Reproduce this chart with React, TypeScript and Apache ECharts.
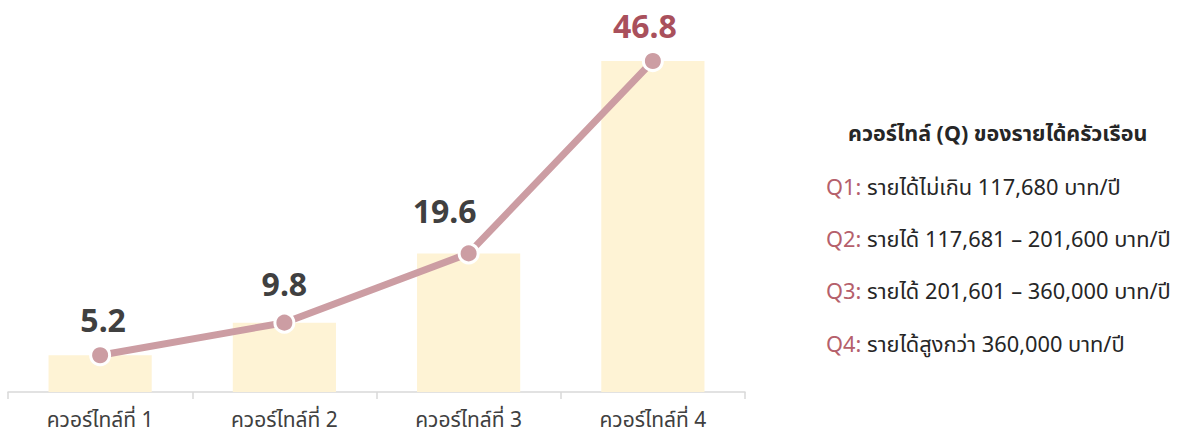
import React, { useEffect, useRef } from "react";
import * as echarts from "echarts";

const categories = ["ควอร์ไทล์ที่ 1", "ควอร์ไทล์ที่ 2", "ควอร์ไทล์ที่ 3", "ควอร์ไทล์ที่ 4"];
const values = [5.2, 9.8, 19.6, 46.8];
const legendTitle = "ควอร์ไทล์ (Q) ของรายได้ครัวเรือน";
const legendKeys = ["Q1:", "Q2:", "Q3:", "Q4:"];
const legendTexts = [
  "รายได้ไม่เกิน 117,680 บาท/ปี",
  "รายได้ 117,681 – 201,600 บาท/ปี",
  "รายได้ 201,601 – 360,000 บาท/ปี",
  "รายได้สูงกว่า 360,000 บาท/ปี",
];

// label nudges (style only)
const labelOffsets = [
  [3, 0],
  [0, -3],
  [-24, -7],
  [-8, 0],
];

const FONT = "'Noto Sans', 'Noto Sans Thai', sans-serif";

export default function App() {
  const ref = useRef<HTMLDivElement>(null);
  useEffect(() => {
    if (!ref.current) return;
    const chart = echarts.init(ref.current, undefined, { renderer: "svg" });
    const lastIdx = values.length - 1;
    chart.setOption({
      animation: false,
      textStyle: { fontFamily: FONT },
      grid: { left: 8, right: 432, top: 20, bottom: 40, containLabel: false },
      xAxis: {
        type: "category",
        data: categories,
        axisLine: { lineStyle: { color: "#d9d9d9", width: 1.5 } },
        axisTick: { show: true, length: 7, lineStyle: { color: "#d9d9d9", width: 1.5 } },
        axisLabel: { color: "#404040", fontSize: 21, margin: 16, fontFamily: FONT },
      },
      yAxis: {
        type: "value",
        min: 0,
        max: 52.6,
        show: false,
        splitLine: { show: false },
      },
      series: [
        {
          type: "bar",
          data: values,
          barWidth: "56%",
          itemStyle: { color: "#FEF3D5" },
          z: 1,
        },
        {
          type: "line",
          data: values.map((v, i) => ({
            value: v,
            label: {
              offset: labelOffsets[i],
              ...(i === lastIdx ? { color: "#A9505C" } : {}),
            },
          })),
          lineStyle: { color: "#CC9DA3", width: 7 },
          itemStyle: { color: "#CC9DA3", borderColor: "#ffffff", borderWidth: 3 },
          symbol: "circle",
          symbolSize: 19,
          z: 3,
          label: {
            show: true,
            position: "top",
            distance: 9,
            fontSize: 32,
            fontWeight: "bold",
            color: "#404040",
            fontFamily: FONT,
            formatter: (p: any) => Number(p.value).toFixed(1),
          },
        },
      ],
      graphic: [
        {
          type: "text",
          left: 848,
          top: 121,
          style: {
            text: legendTitle,
            fill: "#262626",
            font: `bold 21.5px ${FONT}`,
          },
        },
        ...legendTexts.map((t, i) => ({
          type: "text",
          left: 826,
          top: 175 + i * 52.4,
          style: {
            text: `{q|${legendKeys[i]}} {t|${t}}`,
            font: `21.8px ${FONT}`,
            fill: "#262626",
            rich: {
              q: { fill: "#B5606B", color: "#B5606B", font: `21.8px ${FONT}` },
              t: { fill: "#262626", color: "#262626", font: `21.8px ${FONT}` },
            },
          },
        })),
      ],
    });
    return () => chart.dispose();
  }, []);
  return (
    <div
      ref={ref}
      style={{ position: "absolute", left: 0, top: 0, width: 1177, height: 432 }}
    />
  );
}
